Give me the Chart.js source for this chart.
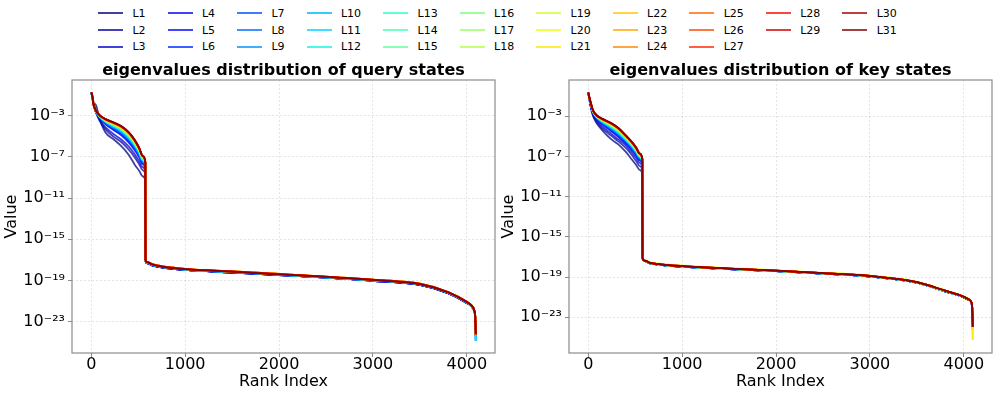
<!DOCTYPE html>
<html>
<head>
<meta charset="utf-8">
<script src="https://cdn.jsdelivr.net/npm/chart.js@4.4.1/dist/chart.umd.min.js"></script>
<style>
  body { margin: 0; background: #fff; width: 997px; height: 395px; position: relative; overflow: hidden; font-family: "DejaVu Sans", sans-serif; }
  #legend { position: absolute; left: 98px; top: 5px; display: flex; column-gap: 22px; font-size: 11px; color: #000; }
  #legend .col { display: flex; flex-direction: column; }
  #legend .item { display: flex; align-items: center; height: 16.7px; white-space: nowrap; }
  #legend .swatch { width: 25px; height: 2px; margin-right: 9.4px; }
  .panel { position: absolute; top: 55px; width: 500px; height: 340px; }
</style>
</head>
<body>
<div id="legend"></div>
<div class="panel" style="left:0px"><canvas id="queryChart" width="500" height="340"></canvas></div>
<div class="panel" style="left:497px"><canvas id="keyChart" width="500" height="340"></canvas></div>
<script>
const headRanks = [0, 10, 25, 50, 90, 150, 240, 320, 400, 460, 510, 550, 576];
const tailRanks = [578, 600, 650, 750, 1000, 1500, 2000, 2500, 3000, 3500, 3800, 4000, 4050, 4080, 4090, 4095];

const xTicks = [0, 1000, 2000, 3000, 4000];
const yTickExps = [-3, -7, -11, -15, -19, -23];

// legend layout of the original: 11 columns, first nine hold 3 entries, last two hold 2
const legendColumnSizes = [3, 3, 3, 3, 3, 3, 3, 3, 3, 2, 2];

// values are log10 of the eigenvalue
// query states, head part per layer
const qL1 = [-0.72, -1.1, -1.7, -1.95, -3.3, -4.6, -5.3, -5.95, -6.8, -7.7, -8.35, -8.9, -9.3];
const qL2 = [-0.72, -1.1, -1.9, -2.6, -3.5, -4.3, -5.05, -5.55, -6.3, -7.0, -7.7, -8.3, -8.7];
const qL3 = [-0.72, -1.1, -1.95, -2.7, -3.4, -4.1, -4.8, -5.3, -6.0, -6.7, -7.4, -8.0, -8.4];
const qL4 = [-0.72, -1.1, -1.95, -2.6, -3.2, -3.8, -4.4, -4.9, -5.6, -6.3, -7.0, -7.7, -8.2];
const qL5 = [-0.72, -1.1, -1.94, -2.6, -3.18, -3.76, -4.34, -4.83, -5.52, -6.22, -6.93, -7.64, -8.14];
const qL6 = [-0.72, -1.1, -1.94, -2.59, -3.16, -3.72, -4.28, -4.76, -5.44, -6.14, -6.86, -7.57, -8.09];
const qL7 = [-0.72, -1.08, -1.94, -2.58, -3.14, -3.69, -4.23, -4.69, -5.37, -6.07, -6.79, -7.52, -8.04];
const qL8 = [-0.72, -1.07, -1.94, -2.57, -3.13, -3.65, -4.18, -4.63, -5.3, -6.0, -6.73, -7.46, -7.99];
const qL9 = [-0.72, -1.06, -1.93, -2.56, -3.11, -3.62, -4.12, -4.57, -5.23, -5.93, -6.67, -7.4, -7.94];
const qL10 = [-0.72, -1.06, -1.93, -2.56, -3.09, -3.59, -4.08, -4.51, -5.17, -5.87, -6.61, -7.36, -7.9];
const qL11 = [-0.72, -1.05, -1.93, -2.55, -3.08, -3.56, -4.03, -4.46, -5.11, -5.81, -6.56, -7.31, -7.86];
const qL12 = [-0.72, -1.05, -1.92, -2.55, -3.07, -3.53, -3.99, -4.41, -5.06, -5.76, -6.51, -7.27, -7.82];
const qL13 = [-0.72, -1.04, -1.92, -2.54, -3.05, -3.51, -3.96, -4.37, -5.01, -5.71, -6.47, -7.23, -7.79];
const qL14 = [-0.72, -1.04, -1.92, -2.54, -3.04, -3.49, -3.93, -4.33, -4.97, -5.67, -6.43, -7.2, -7.76];
const qL15 = [-0.72, -1.03, -1.92, -2.53, -3.03, -3.47, -3.9, -4.3, -4.93, -5.63, -6.4, -7.16, -7.73];
const qL16 = [-0.72, -1.03, -1.91, -2.53, -3.02, -3.45, -3.87, -4.26, -4.89, -5.59, -6.36, -7.13, -7.7];
const qL17 = [-0.72, -1.03, -1.91, -2.53, -3.02, -3.43, -3.85, -4.23, -4.86, -5.56, -6.33, -7.11, -7.68];
const qL18 = [-0.72, -1.02, -1.91, -2.52, -3.01, -3.42, -3.82, -4.21, -4.83, -5.53, -6.31, -7.08, -7.66];
const qL19 = [-0.72, -1.02, -1.91, -2.52, -3.0, -3.4, -3.8, -4.18, -4.8, -5.5, -6.28, -7.06, -7.64];
const qL20 = [-0.72, -1.02, -1.91, -2.52, -2.99, -3.39, -3.78, -4.15, -4.77, -5.47, -6.25, -7.04, -7.62];
const qL21 = [-0.72, -1.02, -1.91, -2.52, -2.99, -3.38, -3.76, -4.14, -4.75, -5.45, -6.24, -7.02, -7.61];
const qL22 = [-0.72, -1.01, -1.9, -2.51, -2.98, -3.37, -3.75, -4.12, -4.73, -5.43, -6.22, -7.0, -7.59];
const qL23 = [-0.72, -1.01, -1.9, -2.51, -2.98, -3.36, -3.73, -4.1, -4.71, -5.41, -6.2, -6.99, -7.58];
const qL24 = [-0.72, -1.01, -1.9, -2.51, -2.97, -3.35, -3.72, -4.08, -4.69, -5.39, -6.18, -6.97, -7.56];
const qL25 = [-0.72, -1.01, -1.9, -2.51, -2.97, -3.34, -3.7, -4.06, -4.67, -5.37, -6.16, -6.96, -7.55];
const qL26 = [-0.72, -1.01, -1.9, -2.51, -2.96, -3.33, -3.69, -4.05, -4.66, -5.36, -6.15, -6.94, -7.54];
const qL27 = [-0.72, -1.0, -1.9, -2.5, -2.96, -3.32, -3.68, -4.04, -4.64, -5.34, -6.14, -6.93, -7.53];
const qL28 = [-0.72, -1.0, -1.9, -2.5, -2.96, -3.32, -3.67, -4.03, -4.63, -5.33, -6.13, -6.92, -7.52];
const qL29 = [-0.72, -1.0, -1.9, -2.5, -2.96, -3.31, -3.67, -4.02, -4.62, -5.32, -6.12, -6.92, -7.51];
const qL30 = [-0.72, -1.0, -1.9, -2.5, -2.95, -3.31, -3.66, -4.01, -4.61, -5.31, -6.11, -6.91, -7.51];
const qL31 = [-0.72, -1.0, -1.9, -2.5, -2.95, -3.3, -3.65, -4.0, -4.6, -5.3, -6.1, -6.9, -7.5];

// query states, tail part (the layers overlap here, read as four groups)
const qTailA = [-17.08, -17.33, -17.53, -17.73, -17.98, -18.23, -18.48, -18.73, -19.03, -19.43, -20.23, -21.18, -21.53, -22.03, -22.7, -24.4];
const qTailB = [-17.04, -17.29, -17.49, -17.69, -17.94, -18.19, -18.44, -18.69, -18.99, -19.39, -20.19, -21.14, -21.49, -21.99, -22.65, -24.85];
const qTailC = [-17.0, -17.25, -17.45, -17.65, -17.9, -18.15, -18.4, -18.65, -18.95, -19.35, -20.15, -21.1, -21.45, -21.95, -22.6, -24.2];
const qTailD = [-16.97, -17.22, -17.42, -17.62, -17.87, -18.12, -18.37, -18.62, -18.92, -19.32, -20.12, -21.07, -21.42, -21.92, -22.57, -24.3];
const qTailGroup = ['A','A','A','A','A','A','B','B','B','B','B','B','C','C','C','C','C','C','D','D','D','D','D','D','D','D','D','C','C','C','C'];

// key states, head part per layer
const kL1 = [-0.65, -1.15, -2.0, -2.95, -3.7, -4.4, -5.25, -5.8, -6.55, -7.25, -7.85, -8.35, -8.75];
const kL2 = [-0.65, -1.15, -1.9, -2.85, -3.55, -4.2, -4.9, -5.5, -6.15, -6.8, -7.45, -7.95, -8.45];
const kL3 = [-0.65, -1.15, -1.9, -2.75, -3.4, -4.0, -4.7, -5.3, -5.9, -6.55, -7.15, -7.65, -8.15];
const kL4 = [-0.65, -1.15, -1.8, -2.65, -3.25, -3.8, -4.45, -5.05, -5.7, -6.3, -6.9, -7.4, -7.95];
const kL5 = [-0.65, -1.14, -1.78, -2.63, -3.22, -3.76, -4.39, -4.98, -5.64, -6.24, -6.84, -7.34, -7.89];
const kL6 = [-0.65, -1.13, -1.77, -2.61, -3.19, -3.71, -4.32, -4.91, -5.57, -6.17, -6.77, -7.29, -7.84];
const kL7 = [-0.65, -1.13, -1.75, -2.59, -3.17, -3.67, -4.27, -4.84, -5.52, -6.12, -6.72, -7.24, -7.79];
const kL8 = [-0.65, -1.12, -1.74, -2.58, -3.15, -3.64, -4.21, -4.78, -5.46, -6.06, -6.66, -7.19, -7.74];
const kL9 = [-0.65, -1.11, -1.73, -2.56, -3.12, -3.6, -4.15, -4.72, -5.4, -6.0, -6.6, -7.14, -7.69];
const kL10 = [-0.65, -1.11, -1.71, -2.54, -3.1, -3.56, -4.11, -4.66, -5.36, -5.96, -6.56, -7.1, -7.65];
const kL11 = [-0.65, -1.1, -1.7, -2.53, -3.08, -3.53, -4.06, -4.61, -5.31, -5.91, -6.51, -7.06, -7.61];
const kL12 = [-0.65, -1.1, -1.69, -2.52, -3.06, -3.5, -4.02, -4.56, -5.27, -5.87, -6.47, -7.02, -7.57];
const kL13 = [-0.65, -1.09, -1.68, -2.5, -3.04, -3.48, -3.98, -4.52, -5.23, -5.83, -6.43, -6.99, -7.54];
const kL14 = [-0.65, -1.09, -1.67, -2.49, -3.03, -3.45, -3.95, -4.48, -5.2, -5.8, -6.4, -6.96, -7.51];
const kL15 = [-0.65, -1.08, -1.67, -2.48, -3.02, -3.43, -3.91, -4.45, -5.16, -5.76, -6.36, -6.93, -7.48];
const kL16 = [-0.65, -1.08, -1.66, -2.47, -3.0, -3.41, -3.88, -4.41, -5.13, -5.73, -6.33, -6.9, -7.45];
const kL17 = [-0.65, -1.08, -1.65, -2.47, -2.99, -3.39, -3.86, -4.38, -5.11, -5.71, -6.31, -6.88, -7.43];
const kL18 = [-0.65, -1.07, -1.65, -2.46, -2.98, -3.38, -3.83, -4.36, -5.08, -5.68, -6.28, -6.86, -7.41];
const kL19 = [-0.65, -1.07, -1.64, -2.45, -2.97, -3.36, -3.81, -4.33, -5.06, -5.66, -6.26, -6.84, -7.39];
const kL20 = [-0.65, -1.07, -1.63, -2.44, -2.96, -3.34, -3.79, -4.3, -5.04, -5.64, -6.24, -6.82, -7.37];
const kL21 = [-0.65, -1.07, -1.63, -2.44, -2.95, -3.33, -3.77, -4.29, -5.02, -5.62, -6.22, -6.81, -7.36];
const kL22 = [-0.65, -1.06, -1.63, -2.43, -2.95, -3.32, -3.75, -4.27, -5.0, -5.6, -6.2, -6.79, -7.34];
const kL23 = [-0.65, -1.06, -1.62, -2.43, -2.94, -3.31, -3.74, -4.25, -4.99, -5.59, -6.19, -6.78, -7.33];
const kL24 = [-0.65, -1.06, -1.62, -2.42, -2.93, -3.3, -3.72, -4.23, -4.97, -5.57, -6.17, -6.76, -7.31];
const kL25 = [-0.65, -1.06, -1.61, -2.42, -2.92, -3.29, -3.71, -4.21, -4.96, -5.56, -6.16, -6.75, -7.3];
const kL26 = [-0.65, -1.06, -1.61, -2.41, -2.92, -3.28, -3.69, -4.2, -4.94, -5.54, -6.14, -6.74, -7.29];
const kL27 = [-0.65, -1.05, -1.61, -2.41, -2.91, -3.27, -3.68, -4.19, -4.93, -5.53, -6.13, -6.73, -7.28];
const kL28 = [-0.65, -1.05, -1.61, -2.41, -2.91, -3.27, -3.67, -4.18, -4.92, -5.52, -6.12, -6.72, -7.27];
const kL29 = [-0.65, -1.05, -1.6, -2.4, -2.91, -3.26, -3.67, -4.17, -4.92, -5.52, -6.12, -6.71, -7.26];
const kL30 = [-0.65, -1.05, -1.6, -2.4, -2.9, -3.26, -3.66, -4.16, -4.91, -5.51, -6.11, -6.71, -7.26];
const kL31 = [-0.65, -1.05, -1.6, -2.4, -2.9, -3.25, -3.65, -4.15, -4.9, -5.5, -6.1, -6.7, -7.25];

// key states, tail part
const kTailA = [-17.16, -17.41, -17.61, -17.76, -17.96, -18.21, -18.41, -18.66, -18.94, -19.56, -20.41, -21.01, -21.26, -21.56, -22.26, -24.1];
const kTailB = [-17.13, -17.38, -17.58, -17.73, -17.93, -18.18, -18.38, -18.63, -18.91, -19.53, -20.38, -20.98, -21.23, -21.53, -22.23, -24.2];
const kTailC = [-17.07, -17.32, -17.52, -17.67, -17.87, -18.12, -18.32, -18.57, -18.85, -19.47, -20.32, -20.92, -21.17, -21.47, -22.3, -25.25];
const kTailD = [-17.1, -17.35, -17.55, -17.7, -17.9, -18.15, -18.35, -18.6, -18.88, -19.5, -20.35, -20.95, -21.2, -21.5, -22.2, -23.95];
const kTailGroup = ['A','A','A','A','A','A','A','A','A','B','B','B','B','B','B','B','B','B','C','C','C','D','D','D','D','D','D','D','D','D','D'];

const queryHeads = [qL1,qL2,qL3,qL4,qL5,qL6,qL7,qL8,qL9,qL10,qL11,qL12,qL13,qL14,qL15,qL16,qL17,qL18,qL19,qL20,qL21,qL22,qL23,qL24,qL25,qL26,qL27,qL28,qL29,qL30,qL31];
const keyHeads = [kL1,kL2,kL3,kL4,kL5,kL6,kL7,kL8,kL9,kL10,kL11,kL12,kL13,kL14,kL15,kL16,kL17,kL18,kL19,kL20,kL21,kL22,kL23,kL24,kL25,kL26,kL27,kL28,kL29,kL30,kL31];
const queryTails = { A: qTailA, B: qTailB, C: qTailC, D: qTailD };
const keyTails = { A: kTailA, B: kTailB, C: kTailC, D: kTailD };

const layerLabels = queryHeads.map((_, i) => 'L' + (i + 1));

// matplotlib 'jet' colormap
function jet(t) {
  const seg = pts => {
    for (let i = 1; i < pts.length; i++) {
      if (t <= pts[i][0]) {
        const [x0, y0] = pts[i - 1], [x1, y1] = pts[i];
        return y0 + (y1 - y0) * (t - x0) / (x1 - x0);
      }
    }
    return pts[pts.length - 1][1];
  };
  const r = seg([[0, 0], [0.35, 0], [0.66, 1], [0.89, 1], [1, 0.5]]);
  const g = seg([[0, 0], [0.125, 0], [0.375, 1], [0.64, 1], [0.91, 0], [1, 0]]);
  const b = seg([[0, 0.5], [0.11, 1], [0.34, 1], [0.65, 0], [1, 0]]);
  return `rgba(${Math.round(r * 255)},${Math.round(g * 255)},${Math.round(b * 255)},0.75)`;
}
const layerColors = layerLabels.map((_, i) => jet(i / (layerLabels.length - 1)));

// legend, filled column by column
const legendEl = document.getElementById('legend');
let idx = 0;
legendColumnSizes.forEach(n => {
  const col = document.createElement('div');
  col.className = 'col';
  for (let k = 0; k < n; k++, idx++) {
    const item = document.createElement('div');
    item.className = 'item';
    item.innerHTML = `<span class="swatch" style="background:${layerColors[idx]}"></span><span>${layerLabels[idx]}</span>`;
    col.appendChild(item);
  }
  legendEl.appendChild(col);
});

const SUP = { '-': '\u207B', '0': '\u2070', '1': '\u00B9', '2': '\u00B2', '3': '\u00B3', '4': '\u2074', '5': '\u2075', '6': '\u2076', '7': '\u2077', '8': '\u2078', '9': '\u2079' };
function powLabel(v) {
  const e = Math.round(Math.log10(v));
  return '10' + String(e).split('').map(ch => SUP[ch]).join('');
}

// four spines plus a title centred over the plot area (not the canvas)
const framePlugin = {
  id: 'frame',
  afterDraw(chart, args, opts) {
    const a = chart.chartArea, ctx = chart.ctx;
    ctx.save();
    ctx.strokeStyle = '#8c8c8c';
    ctx.lineWidth = 1.2;
    ctx.strokeRect(a.left, a.top, a.right - a.left, a.bottom - a.top);
    ctx.fillStyle = '#000';
    ctx.font = 'bold 16px "DejaVu Sans", sans-serif';
    ctx.textAlign = 'center';
    ctx.textBaseline = 'middle';
    ctx.fillText(opts.text, (a.left + a.right) / 2, 16);
    ctx.restore();
  }
};

Chart.defaults.font.family = '"DejaVu Sans", sans-serif';
Chart.defaults.color = '#000';

function makePanel(canvasId, titleText, heads, tails, groups, yMinExp, yMaxExp) {
  const ranks = headRanks.concat(tailRanks);
  const datasets = heads.map((head, i) => {
    const logs = head.concat(tails[groups[i]]);
    return {
      label: layerLabels[i],
      data: ranks.map((r, j) => ({ x: r, y: Math.pow(10, logs[j]) })),
      borderColor: layerColors[i],
      borderWidth: 1.8,
      pointRadius: 0,
      fill: false,
      cubicInterpolationMode: 'monotone',
      order: heads.length - 1 - i
    };
  });

  const gridStyle = {
    color: 'rgba(0,0,0,0.13)',
    lineWidth: 0.8,
    drawTicks: true,
    tickLength: 4,
    tickColor: '#8c8c8c',
    tickWidth: 1
  };

  return new Chart(document.getElementById(canvasId), {
    type: 'line',
    data: { datasets },
    plugins: [framePlugin],
    options: {
      responsive: false,
      animation: false,
      devicePixelRatio: 1,
      layout: { padding: { left: 0, right: 5, top: 25, bottom: 0 } },
      plugins: {
        legend: { display: false },
        tooltip: { enabled: false },
        title: { display: false },
        frame: { text: titleText }
      },
      scales: {
        x: {
          type: 'linear',
          min: -205,
          max: 4300,
          afterBuildTicks: s => { s.ticks = xTicks.map(v => ({ value: v })); },
          afterFit: s => { s.height = 42; },
          grid: gridStyle,
          border: { display: false, dash: [2, 2] },
          ticks: { font: { size: 16 }, color: '#000', padding: -2, maxRotation: 0, autoSkip: false, callback: v => String(v) },
          title: { display: true, text: 'Rank Index', font: { size: 16 }, color: '#000', padding: { top: 0, bottom: 4 } }
        },
        y: {
          type: 'logarithmic',
          min: Math.pow(10, yMinExp),
          max: Math.pow(10, yMaxExp),
          afterBuildTicks: s => { s.ticks = yTickExps.map(e => ({ value: Math.pow(10, e) })); },
          afterFit: s => { s.width = 72; },
          grid: gridStyle,
          border: { display: false, dash: [2, 2] },
          ticks: { font: { size: 16 }, color: '#000', padding: 3, autoSkip: false, callback: v => powLabel(v) },
          title: { display: true, text: 'Value', font: { size: 16 }, color: '#000', padding: { top: 2, bottom: 0 } }
        }
      }
    }
  });
}

makePanel('queryChart', 'eigenvalues distribution of query states', queryHeads, queryTails, qTailGroup, -26.05, 0.48);
makePanel('keyChart', 'eigenvalues distribution of key states', keyHeads, keyTails, kTailGroup, -26.55, 0.61);
</script>
</body>
</html>
